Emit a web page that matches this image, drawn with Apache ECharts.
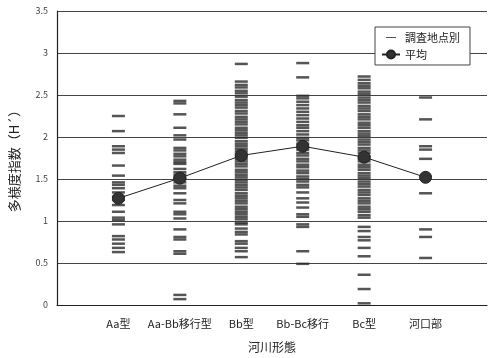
<!DOCTYPE html>
<html><head><meta charset="utf-8">
<script src="https://cdn.jsdelivr.net/npm/echarts@6/dist/echarts.min.js"></script>
<style>html,body{margin:0;padding:0;background:#fff}#c{width:490px;height:358px}</style>
</head><body><div id="c"></div>
<script>
const categories = ['', 'Aa型', 'Aa-Bb移行型', 'Bb型', 'Bb-Bc移行', 'Bc型', '河口部', ''];
const yTicks = [0, 0.5, 1, 1.5, 2, 2.5, 3, 3.5];
const siteAa = [2.25, 2.07, 1.89, 1.85, 1.81, 1.66, 1.54, 1.46, 1.43, 1.39, 1.34, 1.29, 1.25, 1.19, 1.11, 1.04, 1.01, 0.96, 0.82, 0.78, 0.73, 0.68, 0.63];
const siteAaBb = [2.43, 2.40, 2.27, 2.11, 2.02, 1.97, 1.87, 1.84, 1.80, 1.77, 1.73, 1.70, 1.68, 1.62, 1.58, 1.55, 1.52, 1.50, 1.46, 1.42, 1.39, 1.33, 1.25, 1.21, 1.11, 1.08, 1.03, 0.90, 0.81, 0.78, 0.64, 0.61, 0.12, 0.07];
const siteBb = [2.87, 2.66, 2.62, 2.59, 2.55, 2.52, 2.48, 2.44, 2.41, 2.38, 2.35, 2.31, 2.28, 2.24, 2.21, 2.18, 2.15, 2.11, 2.08, 2.05, 2.02, 1.99, 1.95, 1.92, 1.89, 1.86, 1.83, 1.80, 1.77, 1.74, 1.71, 1.68, 1.65, 1.61, 1.58, 1.55, 1.52, 1.49, 1.46, 1.43, 1.40, 1.37, 1.33, 1.30, 1.27, 1.24, 1.21, 1.17, 1.14, 1.11, 1.08, 1.05, 1.02, 0.98, 0.96, 0.91, 0.87, 0.84, 0.76, 0.73, 0.68, 0.64, 0.57];
const siteBbBc = [2.88, 2.71, 2.49, 2.46, 2.42, 2.38, 2.34, 2.30, 2.26, 2.22, 2.18, 2.14, 2.11, 2.07, 2.03, 1.99, 1.96, 1.92, 1.88, 1.85, 1.81, 1.78, 1.74, 1.71, 1.67, 1.64, 1.60, 1.57, 1.53, 1.50, 1.47, 1.43, 1.40, 1.34, 1.27, 1.22, 1.16, 1.08, 1.05, 0.96, 0.93, 0.64, 0.49];
const siteBc = [2.72, 2.68, 2.64, 2.61, 2.58, 2.54, 2.51, 2.47, 2.44, 2.41, 2.37, 2.34, 2.31, 2.27, 2.24, 2.21, 2.17, 2.14, 2.11, 2.07, 2.04, 2.01, 1.97, 1.94, 1.91, 1.87, 1.84, 1.81, 1.77, 1.74, 1.71, 1.67, 1.64, 1.61, 1.57, 1.54, 1.51, 1.47, 1.44, 1.41, 1.37, 1.34, 1.31, 1.27, 1.24, 1.21, 1.17, 1.14, 1.11, 1.07, 1.04, 0.93, 0.88, 0.81, 0.77, 0.68, 0.58, 0.36, 0.19, 0.02];
const siteEstuary = [2.47, 2.21, 1.89, 1.85, 1.74, 1.33, 0.90, 0.81, 0.56];
const meanValues = [1.27, 1.51, 1.78, 1.89, 1.76, 1.52];

const siteGroups = [siteAa, siteAaBb, siteBb, siteBbBc, siteBc, siteEstuary];
const sitePoints = [];
siteGroups.forEach((g, i) => g.forEach(v => sitePoints.push([i + 1, v])));
const meanPoints = meanValues.map((v, i) => [i + 1, v]);

const chart = echarts.init(document.getElementById('c'), null, {renderer: 'canvas'});
chart.setOption({
  animation: false,
  backgroundColor: '#fff',
  textStyle: {fontFamily: '"Noto Sans CJK JP", "Noto Sans", sans-serif'},
  grid: {left: 55, right: 0, top: 11, bottom: 45},
  legend: {
    orient: 'vertical', left: 375, top: 27,
    padding: [5, 10, 5, 6], itemGap: 6,
    borderColor: '#444', borderWidth: 1, backgroundColor: '#fff',
    itemWidth: 18, itemHeight: 10,
    textStyle: {fontSize: 11, color: '#222', fontFamily: '"Noto Sans CJK JP", sans-serif'},
    data: [
      {name: '調査地点別', icon: 'path://M0 44 L100 44 L100 56 L0 56 Z M0 0 L0.1 0 L0.1 0.1 Z M0 100 L0.1 100 L0.1 99.9 Z'},
      {name: '平均'}
    ]
  },
  xAxis: {
    type: 'category', data: categories, boundaryGap: false,
    axisLine: {lineStyle: {color: '#222', width: 1.2}},
    axisTick: {show: false},
    axisLabel: {color: '#222', fontSize: 11, margin: 13, interval: 0},
    name: '河川形態', nameLocation: 'middle', nameGap: 36,
    nameTextStyle: {color: '#222', fontSize: 12},
    splitLine: {show: false}
  },
  yAxis: {
    type: 'value', min: 0, max: 3.5, interval: 0.5,
    axisLine: {show: true, lineStyle: {color: '#222', width: 1.2}},
    axisTick: {show: false},
    axisLabel: {color: '#444', fontSize: 9, margin: 9, formatter: v => String(v)},
    splitLine: {lineStyle: {color: '#444', width: 1}},
    name: '多様度指数（H´）', nameLocation: 'middle', nameRotate: 90, nameGap: 36,
    nameTextStyle: {color: '#222', fontSize: 13}
  },
  series: [
    {
      name: '調査地点別', type: 'scatter', data: sitePoints,
      symbol: 'rect', symbolSize: [13, 2.5],
      itemStyle: {color: '#2a2a2a'}, z: 2
    },
    {
      name: '平均', type: 'line', data: meanPoints,
      symbol: 'circle', symbolSize: 12,
      lineStyle: {color: '#222', width: 1},
      itemStyle: {color: '#333', borderColor: '#222', borderWidth: 1},
      z: 3
    }
  ]
});
</script></body></html>
